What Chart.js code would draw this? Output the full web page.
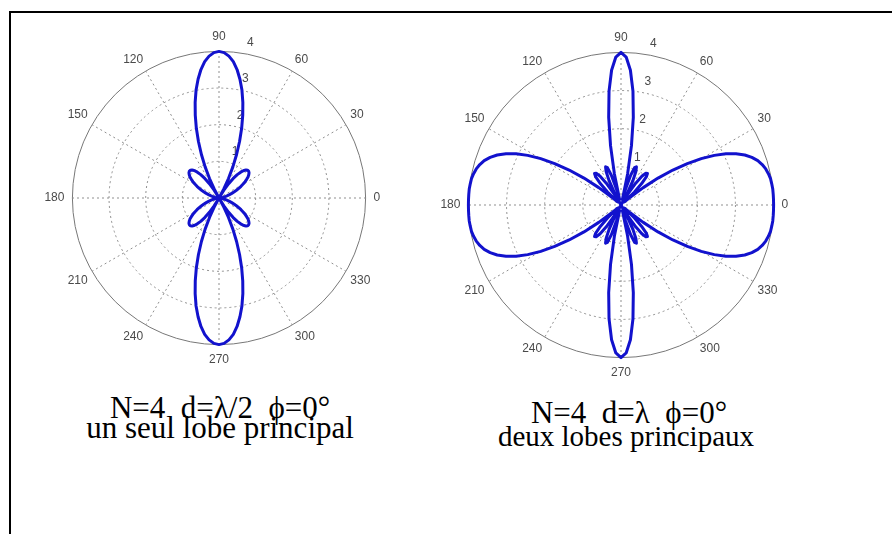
<!DOCTYPE html>
<html>
<head>
<meta charset="utf-8">
<script src="https://cdn.jsdelivr.net/npm/chart.js@4"></script>
<style>
  html, body { margin: 0; padding: 0; background: #fff; width: 892px; height: 534px; overflow: hidden; position: relative; }
  .frame { position: absolute; left: 9px; top: 11px; width: 1000px; height: 1000px; border-left: 2px solid #000; border-top: 2px solid #000; }
  canvas { position: absolute; }
  .cap { position: absolute; width: 400px; text-align: center; font-family: "Liberation Serif", "Times New Roman", serif; white-space: pre; color: #000; }
  .s31 { font-size: 31px; line-height: 31px; }
  .s29 { font-size: 29px; line-height: 29px; }
</style>
</head>
<body>
<div class="frame"></div>
<canvas id="polarHalf" width="400" height="338" style="left:19px;top:29px"></canvas>
<canvas id="polarFull" width="400" height="351" style="left:420px;top:30px"></canvas>
<div class="cap s31" id="capHalf1" style="left:20px;top:392px"></div>
<div class="cap s31" id="capHalf2" style="left:20px;top:412px"></div>
<div class="cap s31" id="capFull1" style="left:429px;top:397px"></div>
<div class="cap s29" id="capFull2" style="left:426px;top:422px"></div>
<script>
// Sampling directions in degrees (every 2°), listed clockwise starting from 90° at the top
const angleLabels = [
  90,88,86,84,82,80,78,76,74,72,70,68,66,64,62,60,58,56,54,52,50,48,46,44,42,40,38,36,34,32,30,28,26,24,22,20,18,16,14,12,10,8,6,4,2,0,
  358,356,354,352,350,348,346,344,342,340,338,336,334,332,330,328,326,324,322,320,318,316,314,312,310,308,306,304,302,300,298,296,294,292,290,288,286,284,282,280,278,276,274,272,270,
  268,266,264,262,260,258,256,254,252,250,248,246,244,242,240,238,236,234,232,230,228,226,224,222,220,218,216,214,212,210,208,206,204,202,200,198,196,194,192,190,188,186,184,182,180,
  178,176,174,172,170,168,166,164,162,160,158,156,154,152,150,148,146,144,142,140,138,136,134,132,130,128,126,124,122,120,118,116,114,112,110,108,106,104,102,100,98,96,94,92
];

// Array factor |AF|, N = 4, d = lambda/2, phi = 0
const gainHalfLambda = [
  4.00,3.97,3.88,3.74,3.54,3.29,3.01,2.69,2.35,2.00,1.64,1.28,0.93,0.59,0.28,0.00,0.25,0.47,0.66,0.81,0.92,1.01,1.06,1.09,1.09,1.07,1.03,0.98,0.91,0.84,0.76,0.68,0.60,0.52,0.44,0.37,0.30,0.24,0.19,0.14,0.10,0.06,0.03,0.02,0.00,0.00,
  0.00,0.02,0.03,0.06,0.10,0.14,0.19,0.24,0.30,0.37,0.44,0.52,0.60,0.68,0.76,0.84,0.91,0.98,1.03,1.07,1.09,1.09,1.06,1.01,0.92,0.81,0.66,0.47,0.25,0.00,0.28,0.59,0.93,1.28,1.64,2.00,2.35,2.69,3.01,3.29,3.54,3.74,3.88,3.97,4.00,
  3.97,3.88,3.74,3.54,3.29,3.01,2.69,2.35,2.00,1.64,1.28,0.93,0.59,0.28,0.00,0.25,0.47,0.66,0.81,0.92,1.01,1.06,1.09,1.09,1.07,1.03,0.98,0.91,0.84,0.76,0.68,0.60,0.52,0.44,0.37,0.30,0.24,0.19,0.14,0.10,0.06,0.03,0.02,0.00,0.00,
  0.00,0.02,0.03,0.06,0.10,0.14,0.19,0.24,0.30,0.37,0.44,0.52,0.60,0.68,0.76,0.84,0.91,0.98,1.03,1.07,1.09,1.09,1.06,1.01,0.92,0.81,0.66,0.47,0.25,0.00,0.28,0.59,0.93,1.28,1.64,2.00,2.35,2.69,3.01,3.29,3.54,3.74,3.88,3.97
];

// Array factor |AF|, N = 4, d = lambda, phi = 0
const gainLambda = [
  4.00,3.88,3.54,3.00,2.32,1.58,0.83,0.15,0.42,0.82,1.04,1.08,0.96,0.71,0.38,0.00,0.37,0.69,0.93,1.06,1.08,0.99,0.78,0.49,0.12,0.30,0.74,1.20,1.64,2.05,2.43,2.77,3.06,3.30,3.50,3.65,3.77,3.85,3.91,3.95,3.98,3.99,4.00,4.00,4.00,4.00,
  4.00,4.00,4.00,3.99,3.98,3.95,3.91,3.85,3.77,3.65,3.50,3.30,3.06,2.77,2.43,2.05,1.64,1.20,0.74,0.30,0.12,0.49,0.78,0.99,1.08,1.06,0.93,0.69,0.37,0.00,0.38,0.71,0.96,1.08,1.04,0.82,0.42,0.15,0.83,1.58,2.32,3.00,3.54,3.88,4.00,
  3.88,3.54,3.00,2.32,1.58,0.83,0.15,0.42,0.82,1.04,1.08,0.96,0.71,0.38,0.00,0.37,0.69,0.93,1.06,1.08,0.99,0.78,0.49,0.12,0.30,0.74,1.20,1.64,2.05,2.43,2.77,3.06,3.30,3.50,3.65,3.77,3.85,3.91,3.95,3.98,3.99,4.00,4.00,4.00,4.00,
  4.00,4.00,4.00,3.99,3.98,3.95,3.91,3.85,3.77,3.65,3.50,3.30,3.06,2.77,2.43,2.05,1.64,1.20,0.74,0.30,0.12,0.49,0.78,0.99,1.08,1.06,0.93,0.69,0.37,0.00,0.38,0.71,0.96,1.08,1.04,0.82,0.42,0.15,0.83,1.58,2.32,3.00,3.54,3.88
];

const radialTicks = [1, 2, 3, 4];
const captionHalf = ['N=4  d=\u03bb/2  \u03d5=0\u00b0', 'un seul lobe principal'];
const captionFull = ['N=4  d=\u03bb  \u03d5=0\u00b0', 'deux lobes principaux'];

const lineColor = 'rgb(18,18,205)';
const gridColor = '#8f8f8f';
const labelColor = '#4a4a4a';
const labelFont = '"Liberation Sans", Arial, sans-serif';

// Radius labels placed just right of the 90° spoke, below the curve
const radialTickLabels = {
  id: 'radialTickLabels',
  beforeDatasetsDraw(chart) {
    const s = chart.scales.r;
    const ctx = chart.ctx;
    const a = 82 * Math.PI / 180;
    ctx.save();
    ctx.font = '12px ' + labelFont;
    ctx.fillStyle = labelColor;
    ctx.textAlign = 'center';
    ctx.textBaseline = 'middle';
    radialTicks.forEach(v => {
      const d = s.getDistanceFromCenterForValue(v);
      ctx.fillText(String(v), s.xCenter + d * Math.cos(a) + 11, s.yCenter - d * Math.sin(a) - 10);
    });
    ctx.restore();
  }
};

function makePolar(id, values) {
  return new Chart(document.getElementById(id), {
    type: 'radar',
    data: {
      labels: angleLabels,
      datasets: [{
        data: values,
        borderColor: lineColor,
        borderWidth: 3,
        borderJoinStyle: 'round',
        pointRadius: 0,
        pointHoverRadius: 0,
        fill: false,
        tension: 0
      }]
    },
    options: {
      responsive: false,
      animation: false,
      events: [],
      layout: { padding: 0 },
      plugins: { legend: { display: false }, tooltip: { enabled: false } },
      scales: {
        r: {
          min: 0,
          max: 4,
          startAngle: 0,
          ticks: { display: false, stepSize: 1 },
          grid: {
            circular: true,
            lineWidth: 1,
            color: c => (c.tick && c.tick.value === 4 ? '#777' : gridColor)
          },
          border: { dash: c => (c.tick && c.tick.value === 4 ? [] : [2, 3]) },
          angleLines: {
            color: gridColor,
            lineWidth: c => (angleLabels[c.index] % 30 === 0 ? 1 : 0),
            borderDash: [2, 3]
          },
          pointLabels: {
            display: true,
            color: labelColor,
            font: { family: labelFont, size: 12 },
            padding: c => (angleLabels[c.index] % 90 === 0 ? 8 : 5),
            callback: v => (v % 30 === 0 ? String(v) : '')
          }
        }
      }
    },
    plugins: [radialTickLabels]
  });
}

makePolar('polarHalf', gainHalfLambda);
makePolar('polarFull', gainLambda);

document.getElementById('capHalf1').textContent = captionHalf[0];
document.getElementById('capHalf2').textContent = captionHalf[1];
document.getElementById('capFull1').textContent = captionFull[0];
document.getElementById('capFull2').textContent = captionFull[1];
</script>
</body>
</html>
